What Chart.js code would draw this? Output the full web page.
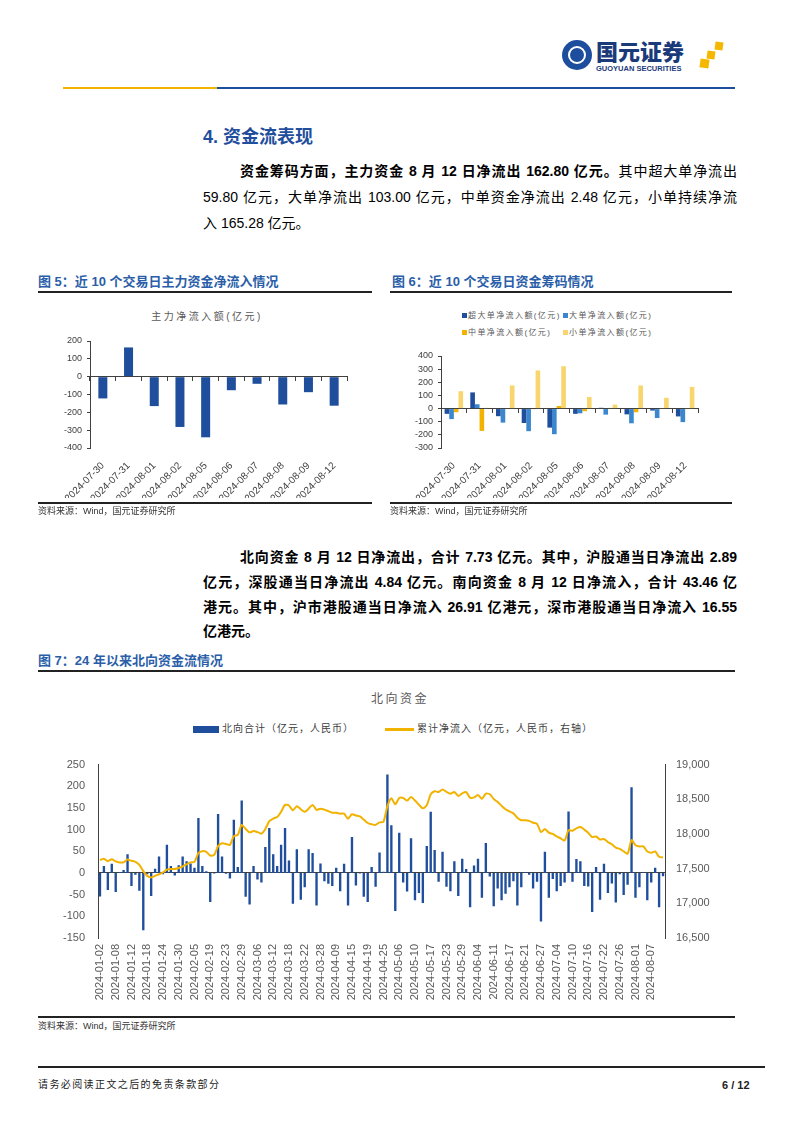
<!DOCTYPE html>
<html>
<head>
<meta charset="utf-8">
<script src="https://cdn.jsdelivr.net/npm/chart.js@4.4.1/dist/chart.umd.min.js"></script>
<style>
body{margin:0;background:#fff;width:802px;height:1133px;position:relative;overflow:hidden;font-family:"Liberation Sans","Noto Sans CJK SC",sans-serif;color:#000}
.a{position:absolute;white-space:nowrap}
.rule{position:absolute;background:#222;height:2px}
.jl{position:absolute;white-space:nowrap;text-align:justify;text-align-last:justify;font-size:14px;line-height:20px}
.figt{position:absolute;font-size:13px;font-weight:bold;color:#2a5ea8;line-height:16px}
.src{position:absolute;font-size:9px;color:#333;line-height:12px}
.ctitle{position:absolute;font-size:10px;letter-spacing:2.5px;color:#595959;text-align:center;line-height:12px}
.lg{position:absolute;font-size:8px;letter-spacing:1.4px;color:#595959;line-height:10px}
.lg i{display:inline-block;width:5px;height:5px;margin-right:1px;vertical-align:0px}
</style>
</head>
<body>
<!-- header -->
<div class="a" style="left:562px;top:40px;width:30px;height:30px;border-radius:50%;background:#1d4e9e"></div>
<div class="a" style="left:568px;top:46px;width:14px;height:14px;border-radius:50%;border:2px solid #fff"></div>
<div class="a" style="left:573px;top:51px;width:8px;height:8px;background:#1d4e9e;transform:rotate(45deg)"></div>
<div class="a" style="left:596px;top:37px;font-size:22px;font-weight:900;color:#1a3a7a;font-family:'Noto Sans CJK SC';line-height:27px">国元证券</div>
<div class="a" style="left:596px;top:64px;font-size:7.5px;font-weight:bold;color:#1a3a7a;line-height:9px">GUOYUAN SECURITIES</div>
<div class="a" style="left:715px;top:42px;width:8px;height:8px;background:#f5b800;transform:rotate(8deg)"></div>
<div class="a" style="left:707px;top:51px;width:8px;height:8px;background:#f5b800;transform:rotate(8deg)"></div>
<div class="a" style="left:700px;top:59px;width:9px;height:9px;background:#f5b800;transform:rotate(8deg)"></div>
<div class="a" style="left:63px;top:87px;width:154px;height:2px;background:#f2b200"></div>
<div class="a" style="left:217px;top:87px;width:518px;height:2px;background:#1d4e9e"></div>

<div class="a" style="left:203px;top:126px;font-size:18px;font-weight:bold;color:#1f4e9c;line-height:22px">4. 资金流表现</div>

<div class="jl" style="left:240px;top:161px;width:497px"><b>资金筹码方面，主力资金 8 月 12 日净流出 162.80 亿元。</b>其中超大单净流出</div>
<div class="jl" style="left:203px;top:187px;width:534px">59.80 亿元，大单净流出 103.00 亿元，中单资金净流出 2.48 亿元，小单持续净流</div>
<div class="a" style="left:203px;top:213px;font-size:14px;line-height:20px">入 165.28 亿元。</div>

<!-- figure 5 / 6 -->
<div class="figt" style="left:38px;top:274px">图 5：近 10 个交易日主力资金净流入情况</div>
<div class="rule" style="left:38px;top:291px;width:334px"></div>
<div class="figt" style="left:392px;top:274px">图 6：近 10 个交易日资金筹码情况</div>
<div class="rule" style="left:390px;top:291px;width:342px"></div>

<div class="ctitle" style="left:107px;top:311px;width:200px">主力净流入额(亿元)</div>
<canvas id="c5" class="a" style="left:38px;top:330px" width="320" height="175"></canvas>

<div id="lg6"></div>
<canvas id="c6" class="a" style="left:392px;top:345px" width="320" height="160"></canvas>

<div class="rule" style="left:38px;top:502px;width:334px"></div>
<div class="src" style="left:38px;top:505px">资料来源：Wind，国元证券研究所</div>
<div class="rule" style="left:390px;top:502px;width:342px"></div>
<div class="src" style="left:390px;top:505px">资料来源：Wind，国元证券研究所</div>

<div class="jl" style="left:240px;top:547px;width:497px;font-weight:bold">北向资金 8 月 12 日净流出，合计 7.73 亿元。其中，沪股通当日净流出 2.89</div>
<div class="jl" style="left:203px;top:572px;width:534px;font-weight:bold">亿元，深股通当日净流出 4.84 亿元。南向资金 8 月 12 日净流入，合计 43.46 亿</div>
<div class="jl" style="left:203px;top:597px;width:534px;font-weight:bold">港元。其中，沪市港股通当日净流入 26.91 亿港元，深市港股通当日净流入 16.55</div>
<div class="a" style="left:203px;top:621px;font-size:14px;line-height:20px;font-weight:bold">亿港元。</div>

<!-- figure 7 -->
<div class="figt" style="left:38px;top:653px">图 7：24 年以来北向资金流情况</div>
<div class="rule" style="left:38px;top:670px;width:697px"></div>
<div class="ctitle" style="left:300px;top:692px;width:200px;font-size:12px;line-height:14px">北向资金</div>
<div class="a" style="left:193px;top:726px;width:26px;height:7px;background:#1f4e9c"></div>
<div class="a" style="left:222px;top:722px;font-size:10px;letter-spacing:1px;color:#404040;line-height:14px">北向合计（亿元，人民币）</div>
<div class="a" style="left:385px;top:728px;width:29px;height:3px;background:#f2b200"></div>
<div class="a" style="left:417px;top:722px;font-size:10px;letter-spacing:1px;color:#404040;line-height:14px">累计净流入（亿元，人民币，右轴）</div>
<canvas id="c7" class="a" style="left:40px;top:745px" width="720" height="264"></canvas>
<div class="rule" style="left:38px;top:1016px;width:697px"></div>
<div class="src" style="left:38px;top:1020px">资料来源：Wind，国元证券研究所</div>

<!-- footer -->
<div class="rule" style="left:38px;top:1066px;width:727px"></div>
<div class="a" style="left:38px;top:1078px;font-size:10px;letter-spacing:1.4px;color:#222;line-height:14px">请务必阅读正文之后的免责条款部分</div>
<div class="a" style="left:722px;top:1078px;font-size:11px;font-weight:bold;color:#222;line-height:14px">6 / 12</div>

<script>
// 图5 主力资金
const days10 = ['2024-07-30','2024-07-31','2024-08-01','2024-08-02','2024-08-05','2024-08-06','2024-08-07','2024-08-08','2024-08-09','2024-08-12'];
const mainFlow = [-122, 164, -165, -282, -340, -76, -40, -156, -87, -162.8];

// 图6 资金筹码
const superLarge = [-40, 123, -58, -110, -145, -40, 6, -44, -15, -59.8];
const large = [-80, 33, -107, -172, -195, -36, -46, -112, -72, -103.0];
const medium = [-28, -170, -3, -5, 20, -20, 5, -28, 3, -2.48];
const small = [132, 6, 176, 290, 322, 88, 30, 176, 82, 165.28];
const names6 = ['超大单净流入额(亿元)', '大单净流入额(亿元)', '中单净流入额(亿元)', '小单净流入额(亿元)'];
const colors6 = ['#1f4e9c', '#3a87d0', '#f2b200', '#f9d56e'];

// 图7 北向资金
const dates7 = ['2024-01-02','2024-01-03','2024-01-04','2024-01-05','2024-01-08','2024-01-09','2024-01-10','2024-01-11','2024-01-12','2024-01-15','2024-01-16','2024-01-17','2024-01-18','2024-01-19','2024-01-22','2024-01-23','2024-01-24','2024-01-25','2024-01-26','2024-01-29','2024-01-30','2024-01-31',
'2024-02-01','2024-02-02','2024-02-05','2024-02-06','2024-02-07','2024-02-08','2024-02-19','2024-02-20','2024-02-21','2024-02-22','2024-02-23','2024-02-26','2024-02-27','2024-02-28','2024-02-29',
'2024-03-01','2024-03-04','2024-03-05','2024-03-06','2024-03-07','2024-03-08','2024-03-11','2024-03-12','2024-03-13','2024-03-14','2024-03-15','2024-03-18','2024-03-19','2024-03-20','2024-03-21','2024-03-22','2024-03-25','2024-03-26','2024-03-27','2024-03-28',
'2024-04-02','2024-04-03','2024-04-08','2024-04-09','2024-04-10','2024-04-11','2024-04-12','2024-04-15','2024-04-16','2024-04-17','2024-04-18','2024-04-19','2024-04-22','2024-04-23','2024-04-24','2024-04-25','2024-04-26','2024-04-29','2024-04-30',
'2024-05-06','2024-05-07','2024-05-08','2024-05-09','2024-05-10','2024-05-13','2024-05-14','2024-05-16','2024-05-17','2024-05-20','2024-05-21','2024-05-22','2024-05-23','2024-05-24','2024-05-27','2024-05-28','2024-05-29','2024-05-30','2024-05-31',
'2024-06-03','2024-06-04','2024-06-05','2024-06-06','2024-06-07','2024-06-11','2024-06-12','2024-06-13','2024-06-14','2024-06-17','2024-06-18','2024-06-19','2024-06-20','2024-06-21','2024-06-24','2024-06-25','2024-06-26','2024-06-27','2024-06-28',
'2024-07-02','2024-07-03','2024-07-04','2024-07-05','2024-07-08','2024-07-09','2024-07-10','2024-07-11','2024-07-12','2024-07-15','2024-07-16','2024-07-17','2024-07-18','2024-07-19','2024-07-22','2024-07-23','2024-07-24','2024-07-25','2024-07-26','2024-07-29','2024-07-30','2024-07-31',
'2024-08-01','2024-08-02','2024-08-05','2024-08-06','2024-08-07','2024-08-08','2024-08-09','2024-08-12'];

const northDaily = [-54, 16, -39, 21, -44, 2, 7, 43, -30, -4, -41, -132, -3, -53, 10, 38, -3, 65, 16, -6, 18, 38, 27, 22,
  12, 127, 16, 4, -67, -1, 136, 38, -2, -13, 123, 14, 167, -55, -73, 16, -15, -22, 60, 104, 43, 16, 65, 104,
  29, -71, 55, -62, -33, 55, 46, -75, 22, -19, -25, -30, 12, -42, 21, -75, 83, -29, -1, -55, -67, 14, -32, 47,
  3, 227, 110, -88, 93, -22, -43, 80, -63, -46, -69, 62, 141, 53, -20, 49, -32, -42, 27, -53, 33, 9, -79, 17,
  33, -57, 69, -8, -77, -36, -63, -48, -33, -19, -75, -33, 2, -4, -36, -20, -112, 49, -57, -14, -42, -30, -22, 142,
  -20, 32, 27, -30, -31, -90, 14, -62, 21, -46, -24, -68, -3, -51, -27, 198, -57, -33, 1, -63, -22, 12, -79, -7.73];

const cumFlow = [17622, 17644, 17608, 17635, 17604, 17590, 17590, 17631, 17613, 17599, 17554, 17464, 17396, 17374, 17396, 17419, 17446, 17486, 17495, 17495, 17509, 17531, 17563, 17590,
  17599, 17725, 17752, 17743, 17689, 17698, 17824, 17865, 17856, 17842, 17968, 17986, 18131, 18072, 18023, 18041, 18027, 18005, 18072, 18185, 18221, 18243, 18320, 18419,
  18410, 18342, 18401, 18356, 18320, 18365, 18419, 18347, 18365, 18351, 18329, 18306, 18306, 18293, 18293, 18221, 18284, 18266, 18252, 18207, 18158, 18140, 18131, 18167,
  18176, 18401, 18514, 18428, 18518, 18518, 18482, 18532, 18482, 18423, 18369, 18414, 18572, 18617, 18604, 18640, 18608, 18581, 18604, 18549, 18586, 18604, 18523, 18527,
  18563, 18509, 18581, 18572, 18505, 18460, 18405, 18356, 18324, 18297, 18234, 18198, 18198, 18189, 18162, 18144, 18027, 18072, 18018, 18000, 17964, 17937, 17905, 18054,
  18045, 18081, 18099, 18063, 18018, 17955, 17964, 17919, 17928, 17883, 17851, 17802, 17784, 17748, 17716, 17910, 17838, 17820, 17820, 17748, 17730, 17748, 17671, 17662];

Chart.defaults.font.family = '"Liberation Sans", "Noto Sans CJK SC", sans-serif';
Chart.defaults.animation = false;

// legend for chart 6 (two rows like the original)
let lg = document.getElementById('lg6');
let pos6 = [[462, 311], [563, 311], [462, 328], [563, 328]];
names6.forEach((n, i) => {
    let d = document.createElement('div');
    d.className = 'lg';
    d.style.left = pos6[i][0] + 'px';
    d.style.top = pos6[i][1] + 'px';
    d.innerHTML = '<i style="background:' + colors6[i] + '"></i>' + n;
    lg.appendChild(d);
});

function smallBarScales(yMin, yMax, yWidth) {
    return {
        x: {
            type: 'category', position: { y: 0 }, offset: true,
            grid: { display: true, drawOnChartArea: false, drawTicks: true, tickLength: 4, color: '#404040', offset: true },
            border: { color: '#404040' },
            ticks: { display: false }
        },
        x2: {
            type: 'category', labels: days10, position: 'bottom', offset: true,
            grid: { display: false }, border: { display: false },
            ticks: { autoSkip: false, minRotation: 45, maxRotation: 45, color: '#404040', font: { size: 10 }, padding: 4 },
            afterFit: s => { s.height = 50; }
        },
        y: {
            min: yMin, max: yMax,
            ticks: { stepSize: 100, autoSkip: false, color: '#404040', font: { size: 9 }, padding: 5 },
            grid: { display: true, drawOnChartArea: false, drawTicks: true, tickLength: 3, color: '#404040' },
            border: { color: '#404040' },
            afterFit: s => { s.width = yWidth; }
        }
    };
}

new Chart(document.getElementById('c5'), {
    type: 'bar',
    data: {
        labels: days10,
        datasets: [{
            label: '主力净流入额(亿元)',
            data: mainFlow,
            backgroundColor: '#1f4e9c',
            barPercentage: 0.35,
            categoryPercentage: 1
        }]
    },
    options: {
        responsive: false,
        layout: { padding: { top: 11, bottom: 7, left: 0, right: 11 } },
        plugins: { legend: { display: false }, tooltip: { enabled: false } },
        scales: smallBarScales(-400, 200, 52)
    }
});

new Chart(document.getElementById('c6'), {
    type: 'bar',
    data: {
        labels: days10,
        datasets: [superLarge, large, medium, small].map((d, i) => ({
            label: names6[i],
            data: d,
            backgroundColor: colors6[i],
            barPercentage: 1,
            categoryPercentage: 0.72
        }))
    },
    options: {
        responsive: false,
        layout: { padding: { top: 11, bottom: 7, left: 0, right: 14 } },
        plugins: { legend: { display: false }, tooltip: { enabled: false } },
        scales: smallBarScales(-300, 400, 49)
    }
});

new Chart(document.getElementById('c7'), {
    data: {
        labels: dates7,
        datasets: [{
            type: 'line',
            label: '累计净流入（亿元，人民币，右轴）',
            data: cumFlow,
            yAxisID: 'y2',
            borderColor: '#f2b200',
            borderWidth: 2,
            pointRadius: 0,
            tension: 0.25,
            order: 0
        }, {
            type: 'bar',
            label: '北向合计（亿元，人民币）',
            data: northDaily,
            yAxisID: 'y',
            backgroundColor: '#1f4e9c',
            barPercentage: 0.6,
            categoryPercentage: 1,
            order: 1
        }]
    },
    options: {
        responsive: false,
        layout: { padding: { top: 9, bottom: 1, left: 0, right: 0 } },
        plugins: { legend: { display: false }, tooltip: { enabled: false } },
        scales: {
            x: {
                type: 'category', position: { y: 0 }, offset: true,
                grid: { display: false, drawTicks: false }, border: { color: '#404040' },
                ticks: { display: false }
            },
            x2: {
                type: 'category', labels: dates7, position: 'bottom', offset: true,
                grid: { display: false, drawTicks: false }, border: { display: false },
                ticks: {
                    autoSkip: false, minRotation: 90, maxRotation: 90, padding: 6,
                    color: '#595959', font: { size: 11 },
                    callback: (v, i) => (i % 4 === 0 ? dates7[i] : '')
                },
                afterFit: s => { s.height = 70; }
            },
            y: {
                position: 'left', min: -150, max: 250,
                ticks: { stepSize: 50, autoSkip: false, color: '#595959', font: { size: 11 }, padding: 13 },
                grid: { display: false, drawTicks: false }, border: { color: '#404040' },
                afterFit: s => { s.width = 58; }
            },
            y2: {
                position: 'right', min: 16500, max: 19000,
                ticks: { stepSize: 500, autoSkip: false, color: '#595959', font: { size: 11 }, padding: 11,
                    callback: v => v.toLocaleString('en-US') },
                grid: { display: false, drawTicks: false }, border: { color: '#404040' },
                afterFit: s => { s.width = 95; }
            }
        }
    }
});
</script>
</body>
</html>
